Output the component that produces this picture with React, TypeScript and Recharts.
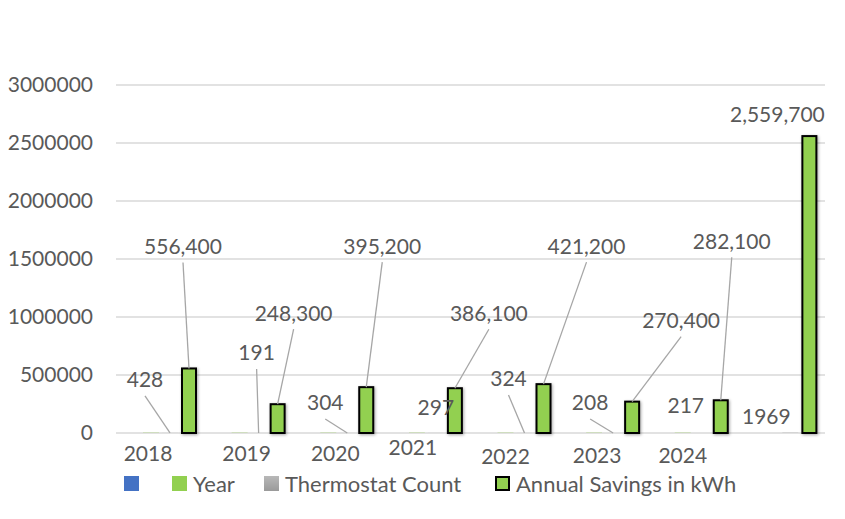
import React from "react";
import { BarChart, Bar, XAxis, YAxis, CartesianGrid, LabelList } from "recharts";

const categories = ["2018", "2019", "2020", "2021", "2022", "2023", "2024", ""];
const blankSeries: (number | null)[] = [null, null, null, null, null, null, null, null];
const years: (number | null)[] = [2018, 2019, 2020, 2021, 2022, 2023, 2024, null];
const thermostatCount = [428, 191, 304, 297, 324, 208, 217, 1969];
const annualSavings = [556400, 248300, 395200, 386100, 421200, 270400, 282100, 2559700];
const yTicks = [0, 500000, 1000000, 1500000, 2000000, 2500000, 3000000];

// label placement (dx, dy from the bar's top centre, leader line on/off)
const yearLabelPos = [[-3, 20], [7, 20], [7, 20], [-4, 14], [0, 23], [3, 22], [0, 22], [0, 0]];
const countLabelPos = [[-25, -54, 1], [-2, -81, 1], [-22, -31, 1], [0, -26, 0], [-16, -55, 1], [-23, -31, 1], [-16, -28, 0], [-24, -17, 0]];
const savingsLabelPos = [[-6, -123, 1], [16, -92, 1], [16, -142, 1], [34, -76, 1], [43, -139, 1], [49, -82, 1], [11, -160, 1], [-32, -23, 0]];

const data = categories.map((c, i) => ({
  name: c,
  blank: blankSeries[i],
  year: years[i],
  count: thermostatCount[i],
  savings: annualSavings[i],
}));

const FONT = "Lato, 'Open Sans', sans-serif";
const TXT = "#595959";
const GREEN = "#92d050";

const makeLabel = (pos: number[][], fmt: (v: number) => string) => (props: any) => {
  const vb = props.viewBox || props;
  const { index, value } = props;
  if (value == null) return null;
  const p = pos[index];
  if (!p) return null;
  const cx = vb.x + vb.width / 2;
  const top = vb.y;
  const lx = cx + p[0];
  const ly = top + p[1];
  return (
    <g>
      {p[2] ? (
        <line x1={lx} y1={ly + 17} x2={cx} y2={top} stroke="#a6a6a6" strokeWidth={1.3} />
      ) : null}
      <text x={lx} y={ly} textAnchor="middle" dominantBaseline="central" fill={TXT} fontSize={21} fontFamily={FONT}>
        {fmt(Number(value))}
      </text>
    </g>
  );
};

const SavingsShape = (props: any) => {
  const { x, y, width, height } = props;
  if (!height || height <= 0) return null;
  return (
    <rect
      x={x + 1}
      y={y}
      width={width - 2}
      height={height}
      fill={GREEN}
      stroke="#000"
      strokeWidth={2}
      style={{ filter: "drop-shadow(1.5px 1.5px 1.5px rgba(0,0,0,0.35))" }}
    />
  );
};

const legendItems = [
  { left: 124, label: "", swatch: { background: "#4472c4" } },
  { left: 172, label: "Year", swatch: { background: GREEN } },
  { left: 264, label: "Thermostat Count", swatch: { background: "linear-gradient(#b8b8b8, #9a9a9a)" } },
  { left: 495, label: "Annual Savings in kWh", swatch: { background: GREEN, border: "2px solid #000", boxSizing: "border-box" as const } },
];

export default function App() {
  return (
    <div style={{ position: "absolute", left: 0, top: 0, width: 845, height: 519, background: "#fff" }}>
      <BarChart
        width={845}
        height={519}
        data={data}
        margin={{ top: 85, right: 20, bottom: 86, left: 0 }}
        barSize={16}
        barGap={3}
      >
        <CartesianGrid vertical={false} stroke="#d9d9d9" strokeWidth={1.5} />
        <XAxis dataKey="name" hide />
        <YAxis
          width={116}
          domain={[0, 3000000]}
          ticks={yTicks}
          axisLine={false}
          tickLine={false}
          tickSize={0}
          tickMargin={23}
          tick={{ fill: TXT, fontSize: 21, fontFamily: FONT }}
        />
        <Bar dataKey="blank" fill="#4472c4" isAnimationActive={false} />
        <Bar dataKey="year" fill={GREEN} isAnimationActive={false}>
          <LabelList dataKey="year" content={makeLabel(yearLabelPos, (v) => String(v))} />
        </Bar>
        <Bar dataKey="count" fill="#a5a5a5" isAnimationActive={false}>
          <LabelList dataKey="count" content={makeLabel(countLabelPos, (v) => String(v))} />
        </Bar>
        <Bar dataKey="savings" fill={GREEN} shape={SavingsShape} isAnimationActive={false}>
          <LabelList dataKey="savings" content={makeLabel(savingsLabelPos, (v) => v.toLocaleString("en-US"))} />
        </Bar>
      </BarChart>
      {legendItems.map((it) => (
        <div
          key={it.left}
          style={{
            position: "absolute",
            left: it.left,
            top: 470,
            height: 26,
            display: "flex",
            alignItems: "center",
            fontFamily: FONT,
            fontSize: 22,
            color: TXT,
            whiteSpace: "nowrap",
          }}
        >
          <span style={{ display: "inline-block", width: 15, height: 15, marginRight: 6, ...it.swatch }} />
          {it.label}
        </div>
      ))}
    </div>
  );
}
